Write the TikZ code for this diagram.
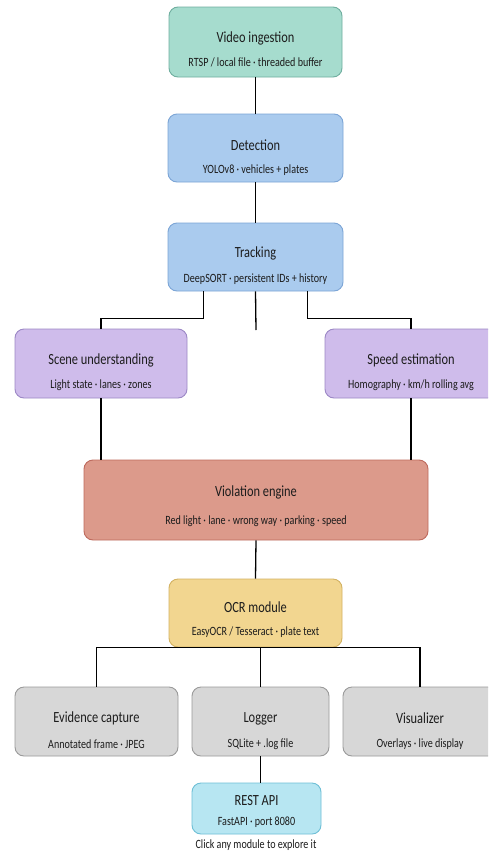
\documentclass[tikz,border=0pt]{standalone}
\usepackage{fontspec}
\setmainfont{Carlito}[FakeStretch=0.8]
\usetikzlibrary{calc}
\definecolor{tealF}{HTML}{A6DCCE}\definecolor{tealD}{HTML}{6FAE9F}
\definecolor{blueF}{HTML}{AACBEE}\definecolor{blueD}{HTML}{7CA5D6}
\definecolor{lavF}{HTML}{CFBCEB}\definecolor{lavD}{HTML}{9C88C6}
\definecolor{redF}{HTML}{DC9A8B}\definecolor{redD}{HTML}{BE6A5D}
\definecolor{yelF}{HTML}{F2D690}\definecolor{yelD}{HTML}{D3B262}
\definecolor{grayF}{HTML}{D7D7D7}\definecolor{grayD}{HTML}{9A9A9A}
\definecolor{cyanF}{HTML}{B7E6F2}\definecolor{cyanD}{HTML}{6EBFD6}
\definecolor{txt}{HTML}{1C1C1C}
\tikzset{
  box/.style={draw, rounded corners=9pt, line width=0.9pt, inner sep=0pt},
  ttl/.style={font=\fontsize{15.5}{17}\selectfont, text=txt, inner sep=0pt},
  sub/.style={font=\fontsize{12.6}{14}\selectfont, text=txt, inner sep=0pt},
  conn/.style={line width=1.3pt, black},
}
\begin{document}
\begin{tikzpicture}[x=1pt,y=-1pt]
\fill[white] (0,0) rectangle (488,854);
\clip (0,0) rectangle (488,854);
% boxes
\node[box, fill=tealF, draw=tealD, minimum width=173, minimum height=70] (vid) at (255.5,42) {};
\node[box, fill=blueF, draw=blueD, minimum width=175, minimum height=68] (det) at (255.5,148) {};
\node[box, fill=blueF, draw=blueD, minimum width=175, minimum height=68] (trk) at (255.5,257) {};
\node[box, fill=lavF, draw=lavD, minimum width=172, minimum height=69] (scn) at (101,363.5) {};
\node[box, fill=lavF, draw=lavD, minimum width=172, minimum height=69] (spd) at (411,363.5) {};
\node[box, fill=redF, draw=redD, minimum width=344, minimum height=80] (vio) at (256,500) {};
\node[box, fill=yelF, draw=yelD, minimum width=173, minimum height=68] (ocr) at (255.5,613) {};
\node[box, fill=grayF, draw=grayD, minimum width=163, minimum height=69] (evi) at (96.5,721.5) {};
\node[box, fill=grayF, draw=grayD, minimum width=137, minimum height=69] (log) at (260.5,721.5) {};
\node[box, fill=grayF, draw=grayD, minimum width=154, minimum height=69] (vis) at (420,721.5) {};
\node[box, fill=cyanF, draw=cyanD, minimum width=129, minimum height=51] (api) at (256.5,808.5) {};
% texts
\node[ttl] (vidT) at ($(vid.center)+(0,-4)$) {Video ingestion};
\node[sub] (vidS) at ($(vid.center)+(0,20)$) {RTSP / local file · threaded buffer};
\node[ttl] (detT) at ($(det.center)+(0,-3)$) {Detection};
\node[sub] (detS) at ($(det.center)+(0,22)$) {YOLOv8 · vehicles + plates};
\node[ttl] (trkT) at ($(trk.center)+(0,-4)$) {Tracking};
\node[sub] (trkS) at ($(trk.center)+(0,22)$) {DeepSORT · persistent IDs + history};
\node[ttl] (scnT) at ($(scn.center)+(0,-3)$) {Scene understanding};
\node[sub] (scnS) at ($(scn.center)+(0,22)$) {Light state · lanes · zones};
\node[ttl] (spdT) at (411,360.5) {Speed estimation};
\node[sub] (spdS) at (411,385.5) {Homography · km/h rolling avg};
\node[ttl] (vioT) at ($(vio.center)+(0,-8)$) {Violation engine};
\node[sub] (vioS) at ($(vio.center)+(0,21)$) {Red light · lane · wrong way · parking · speed};
\node[ttl] (ocrT) at ($(ocr.center)+(0,-6)$) {OCR module};
\node[sub] (ocrS) at ($(ocr.center)+(0,19)$) {EasyOCR / Tesseract · plate text};
\node[ttl] (eviT) at ($(evi.center)+(0,-3)$) {Evidence capture};
\node[sub] (eviS) at ($(evi.center)+(0,23)$) {Annotated frame · JPEG};
\node[ttl] (logT) at ($(log.center)+(0,-3)$) {Logger};
\node[sub] (logS) at ($(log.center)+(0,23)$) {SQLite + .log file};
\node[ttl] (visT) at (420,718.5) {Visualizer};
\node[sub] (visS) at (420,744.5) {Overlays · live display};
\node[ttl] (apiT) at ($(api.center)+(0,-8)$) {REST API};
\node[sub] (apiS) at ($(api.center)+(0,14)$) {FastAPI · port 8080};
\node[sub] (cap) at (256,845) {Click any module to explore it};
% connectors
\coordinate (stub) at (256,330);
\draw[conn] (vid.south) -- (det.north);
\draw[conn] (det.south) -- (trk.north);
\draw[conn] (trk.south) -- (stub);
\draw[conn] ($(trk.south)+(-52,0)$) -- ++(0,27) -| (scn.north);
\draw[conn] ($(trk.south)+(52,0)$) -- ++(0,27) -| (spd.north);
\draw[conn] (scn.south) -- (scn.south |- vio.north);
\draw[conn] (spd.south) -- (spd.south |- vio.north);
\draw[conn] (vio.south) -- (ocr.north);
\draw[conn] (evi.north) |- (ocr.south) -| (vis.north);
\draw[conn] (log.north) -- (log.north |- ocr.south);
\draw[conn] (log.south) -- (log.south |- api.north);
\end{tikzpicture}
\end{document}
